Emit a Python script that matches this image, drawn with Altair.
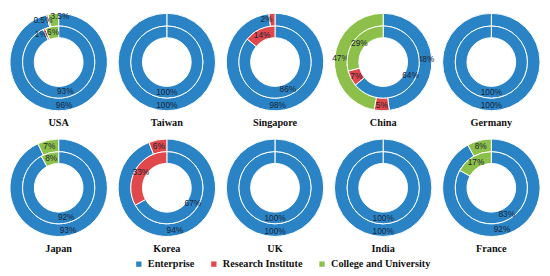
import altair as alt
import pandas as pd

countries = ["USA", "Taiwan", "Singapore", "China", "Germany",
             "Japan", "Korea", "UK", "India", "France"]
categories = ["Enterprise", "Research Institute", "College and University"]
colors = ["#2a83c5", "#e0484c", "#8cc04a"]

# outer ring
outer_enterprise = [96, 100, 98, 48, 100, 93, 94, 100, 100, 92]
outer_research = [0.5, 0, 2, 5, 0, 0, 6, 0, 0, 0]
outer_college = [3.5, 0, 0, 47, 0, 7, 0, 0, 0, 8]
# inner ring
inner_enterprise = [93, 100, 86, 64, 100, 92, 67, 100, 100, 83]
inner_research = [1, 0, 14, 7, 0, 0, 33, 0, 0, 0]
inner_college = [6, 0, 0, 29, 0, 8, 0, 0, 0, 17]

rows = []
for ring, series in [("outer", [outer_enterprise, outer_research, outer_college]),
                     ("inner", [inner_enterprise, inner_research, inner_college])]:
    for ci, c in enumerate(countries):
        for k, cat in enumerate(categories):
            v = series[k][ci]
            if v > 0:
                rows.append({"country": c, "ring": ring, "category": cat,
                             "order": k, "value": v, "label": f"{v:g}%"})
df = pd.DataFrame(rows)

SERIF = "'Liberation Serif', 'Times New Roman', 'DejaVu Serif', serif"

theta_scale = alt.Scale(domain=[0, 100])
color = alt.Color("category:N", scale=alt.Scale(domain=categories, range=colors),
                  legend=alt.Legend(title=None, orient="none", direction="horizontal",
                                    legendX=128, legendY=254, symbolType="square",
                                    symbolSize=30, symbolStrokeWidth=0,
                                    labelFont=SERIF, labelFontWeight="bold",
                                    labelFontSize=10.5, labelColor="#111",
                                    columnPadding=14, labelOffset=4))

base = alt.Chart().transform_window(
    cum="sum(value)", groupby=["country", "ring"], sort=[alt.SortField("order")]
).transform_calculate(
    start="datum.cum - datum.value", mid="datum.cum - datum.value / 2",
    edge_end="datum.cum - datum.value + 0.05"
)

small_red = "datum.category == 'Research Institute' && datum.value <= 2"
small_green = "datum.category == 'College and University' && datum.value < 4"


def ring_layers(ring, r_out, r_in, r_text):
    b = base.transform_filter(alt.datum.ring == ring)
    arc = b.mark_arc(outerRadius=r_out, innerRadius=r_in, stroke="white",
                     strokeWidth=1).encode(
        theta=alt.Theta("start:Q", scale=theta_scale),
        theta2="cum:Q",
        color=color,
    )
    # white slice boundary at 12 o'clock (also visible on full rings)
    edge = b.transform_filter("datum.value >= 100").mark_arc(
        outerRadius=r_out, innerRadius=r_in, stroke="white", strokeWidth=0.8,
        fill="white").encode(
        theta=alt.Theta("start:Q", scale=theta_scale),
        theta2="edge_end:Q",
    )
    out = [arc, edge]
    for flt, dx, dy in [(f"!({small_red}) && !({small_green})", 0, 0),
                        (small_red, -6, 0),
                        (small_green, 6, -3)]:
        out.append(b.transform_filter(flt).mark_text(
            radius=r_text, fontSize=8.5, font="Liberation Sans", color="#1a2433",
            dx=dx, dy=dy).encode(
            theta=alt.Theta("mid:Q", scale=theta_scale),
            text="label:N",
        ))
    return out


layers = ring_layers("outer", 50, 37, 44) + ring_layers("inner", 37, 25, 31)

chart = alt.layer(*layers, data=df).properties(width=102, height=104).facet(
    facet=alt.Facet("country:N", sort=countries, title=None,
                    header=alt.Header(labelOrient="bottom", labelFont=SERIF,
                                      labelFontWeight="bold", labelFontSize=10.5,
                                      labelColor="#111", labelPadding=6)),
    columns=5,
    spacing={"row": 8, "column": 5},
).properties(
    padding={"left": 0, "top": 0, "right": 0, "bottom": 0}
).configure_view(strokeWidth=0)

chart.save("out.html", embed_options={"renderer": "svg", "actions": False})
